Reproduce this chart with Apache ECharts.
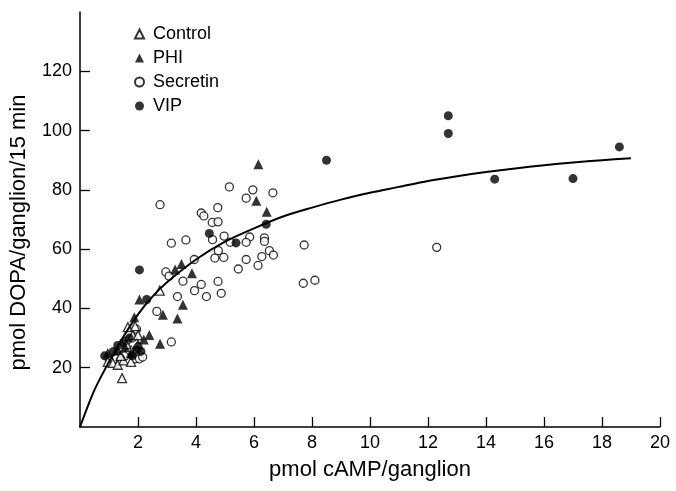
<!DOCTYPE html>
<html>
<head>
<meta charset="utf-8">
<script src="https://cdn.jsdelivr.net/npm/echarts@6/dist/echarts.min.js"></script>
<style>
    html, body { margin: 0; padding: 0; background: #fff; }
    #dopaChart { width: 676px; height: 491px; }
</style>
</head>
<body>
<div id="dopaChart"></div>
<script>
    // points are [pmol cAMP, pmol DOPA]
    var controlPts = [
        [2.75, 46], [1.45, 16.5], [0.96, 22], [1.13, 21.6], [1.3, 21], [1.5, 22.5],
        [1.76, 22], [1.65, 33.7], [1.82, 31], [1.9, 34], [1.6, 28], [1.4, 24], [2.0, 31]
    ];
    var phiPts = [
        [6.15, 88.6], [6.08, 76.3], [6.44, 72.6], [3.5, 55], [3.28, 53.1], [3.86, 51.9],
        [3.55, 41.2], [2.86, 37.9], [3.36, 36.6], [2.76, 28.1], [2.05, 43], [1.87, 37],
        [2.39, 31], [2.2, 29.5], [0.96, 25], [1.3, 26], [1.55, 27], [1.75, 25], [2.0, 28]
    ];
    var secretinPts = [
        [2.76, 75], [5.15, 81], [5.96, 80], [6.65, 79], [5.73, 77.2], [4.75, 74],
        [4.18, 72.2], [4.27, 71.2], [4.56, 69], [4.76, 69.2], [4.57, 63.2], [4.97, 64.4],
        [5.85, 64.1], [6.36, 63.8], [6.36, 62.6], [3.15, 62], [3.65, 63.1], [5.18, 62.3],
        [5.73, 62.3], [7.73, 61.4], [4.77, 59.5], [6.53, 59.5], [6.67, 58], [6.27, 57.5],
        [4.65, 57], [4.96, 57.2], [5.73, 56.5], [3.94, 56.5], [6.14, 54.5], [5.46, 53.3],
        [2.96, 52.3], [3.07, 50.9], [3.55, 49.2], [4.18, 48.1], [3.95, 46], [4.76, 49.1],
        [4.87, 45.1], [4.36, 44], [3.36, 44], [2.65, 39], [3.15, 28.7], [12.3, 60.6],
        [7.7, 48.5], [8.1, 49.5],
        [1.0, 23], [1.25, 23], [1.4, 22.5], [1.55, 24], [1.7, 26], [1.9, 23],
        [2.05, 23], [2.16, 23.6], [2.0, 27], [1.8, 30], [1.6, 29], [1.95, 33]
    ];
    var vipPts = [
        [8.5, 90], [12.7, 105], [12.7, 99], [18.6, 94.5], [14.3, 83.6], [17.0, 83.8],
        [6.42, 68.4], [4.46, 65.3], [5.38, 62.1], [2.05, 53], [2.3, 43], [0.85, 24],
        [1.15, 25.5], [1.3, 27.5], [1.5, 28.5], [1.7, 30], [1.8, 24], [1.95, 26], [2.1, 25.5]
    ];
    // fitted curve
    var curvePts = [
        [0, 0], [0.5, 12.5], [1, 22], [1.5, 30.5], [2, 38], [2.5, 44], [3, 48.8], [4, 56.5],
        [5, 62.5], [6, 67], [7, 71], [8, 74], [9, 76.7], [10, 79], [11, 81], [12, 83],
        [13, 84.6], [14, 86], [15, 87.2], [16, 88.3], [17, 89.2], [18, 90], [19, 90.7]
    ];
    var xTicks = [2, 4, 6, 8, 10, 12, 14, 16, 18, 20];
    var yTicks = [20, 40, 60, 80, 100, 120];

    var FONT = 'Liberation Sans';
    var openStyle = { color: '#fff', borderColor: '#000', borderWidth: 1.3 };
    var fillStyle = { color: '#000', borderColor: '#000', borderWidth: 0 };

    var chart = echarts.init(document.getElementById('dopaChart'));
    chart.setOption({
        animation: false,
        backgroundColor: '#fff',
        grid: { left: 80, right: 16, top: 12, bottom: 64 },
        legend: {
            orient: 'vertical',
            left: 134,
            top: 25,
            itemWidth: 9,
            itemHeight: 9,
            itemGap: 6,
            padding: 0,
            textStyle: { fontFamily: FONT, fontSize: 18, lineHeight: 18, color: '#000', padding: [0, 0, 0, 4] },
            data: ['Control', 'PHI', 'Secretin', 'VIP']
        },
        xAxis: {
            type: 'value',
            min: 0,
            max: 20,
            interval: 2,
            name: 'pmol cAMP/ganglion',
            nameLocation: 'middle',
            nameGap: 32,
            nameTextStyle: { fontFamily: FONT, fontSize: 22, color: '#000' },
            axisLine: { lineStyle: { color: '#000', width: 1.5 } },
            axisTick: { inside: true, length: 10, customValues: xTicks, lineStyle: { color: '#000', width: 1.3 } },
            axisLabel: { customValues: xTicks, fontFamily: FONT, fontSize: 18, color: '#000', margin: 7 },
            splitLine: { show: false }
        },
        yAxis: {
            type: 'value',
            min: 0,
            max: 140,
            interval: 20,
            name: 'pmol DOPA/ganglion/15 min',
            nameLocation: 'middle',
            nameGap: 50,
            nameTextStyle: { fontFamily: FONT, fontSize: 22, color: '#000', padding: [0, 0, 0, -26] },
            axisLine: { show: true, lineStyle: { color: '#000', width: 1.5 } },
            axisTick: { show: true, inside: true, length: 10, customValues: yTicks, lineStyle: { color: '#000', width: 1.3 } },
            axisLabel: { customValues: yTicks, fontFamily: FONT, fontSize: 18, color: '#000', margin: 8 },
            splitLine: { show: false }
        },
        series: [
            {
                name: 'Secretin',
                type: 'scatter',
                symbol: 'circle',
                symbolSize: 8,
                itemStyle: openStyle,
                data: secretinPts
            },
            {
                name: 'Control',
                type: 'scatter',
                symbol: 'triangle',
                symbolSize: 9,
                itemStyle: openStyle,
                data: controlPts
            },
            {
                name: 'PHI',
                type: 'scatter',
                symbol: 'triangle',
                symbolSize: 10,
                itemStyle: fillStyle,
                data: phiPts
            },
            {
                name: 'VIP',
                type: 'scatter',
                symbol: 'circle',
                symbolSize: 9,
                itemStyle: fillStyle,
                data: vipPts
            },
            {
                name: 'fit',
                type: 'line',
                smooth: 0.3,
                showSymbol: false,
                silent: true,
                lineStyle: { color: '#000', width: 2 },
                data: curvePts
            }
        ]
    });
</script>
</body>
</html>
